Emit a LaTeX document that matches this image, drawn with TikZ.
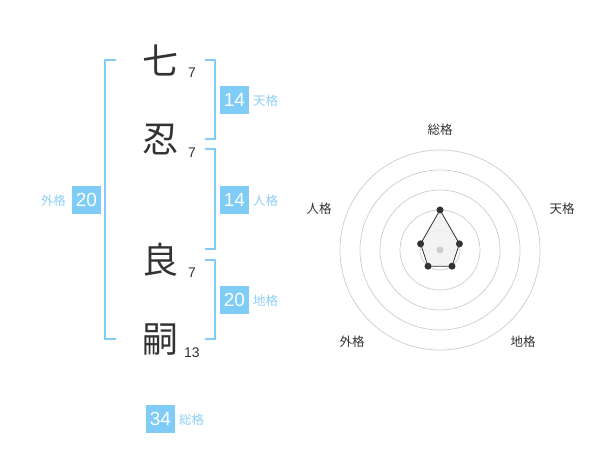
\documentclass[tikz,border=0pt]{standalone}
\usepackage{fontspec}
\setmainfont{Liberation Sans}
\newfontfamily\cjk{Noto Sans CJK JP}
\definecolor{boxblue}{HTML}{7FCCF7}
\definecolor{lblblue}{HTML}{8CCFF5}
\definecolor{brblue}{HTML}{82CBF7}
\definecolor{ink}{HTML}{333333}
\definecolor{ring}{HTML}{CCCCCC}
\begin{document}
\begin{tikzpicture}[x=1pt,y=-1pt,
  kanji/.style={font=\cjk\fontsize{36}{36}\selectfont, text=ink, inner sep=0pt},
  stroke/.style={font=\fontsize{14}{14}\selectfont, text=ink, inner sep=0pt},
  valbox/.style={fill=boxblue, text=white, font=\fontsize{19}{19}\selectfont, minimum width=29pt, minimum height=28pt, inner sep=0pt},
  vlabel/.style={font=\cjk\fontsize{12.5}{12.5}\selectfont, text=lblblue, inner sep=0pt},
  bracket/.style={draw=brblue, line width=2pt},
  rlabel/.style={font=\cjk\fontsize{12.5}{12.5}\selectfont, text=ink, inner sep=0pt},
  ringline/.style={draw=ring, line width=0.7pt},
  dot/.style={circle, fill=ink, inner sep=0pt, minimum size=7pt}]
\useasboundingbox (0,0) rectangle (600,470);
% characters
\node[kanji] (c1) at (160,60) {七};
\node[kanji] (c2) at (160,140) {忍};
\node[kanji] (c3) at (160,260) {良};
\node[kanji] (c4) at (160,340) {嗣};
\node[stroke] (n1) at (192,72.5) {7};
\node[stroke] (n2) at (192,152.5) {7};
\node[stroke] (n3) at (192,272.5) {7};
\node[stroke] (n4) at (192,352.5) {13};
% brackets
\coordinate (lt) at (116,60); \coordinate (lb) at (116,339);
\draw[bracket] (lt) -- (105,60) -- (105,339) -- (lb);
\coordinate (t1) at (205,60); \coordinate (t2) at (205,139);
\draw[bracket] (t1) -- (214.5,60) -- (214.5,139) -- (t2);
\coordinate (j1) at (205,149.5); \coordinate (j2) at (205,249.5);
\draw[bracket] (j1) -- (214.5,149.5) -- (214.5,249.5) -- (j2);
\coordinate (d1) at (205,260); \coordinate (d2) at (205,339);
\draw[bracket] (d1) -- (214.5,260) -- (214.5,339) -- (d2);
% value boxes
\node[valbox] (b1) at (234.5,100) {14};
\node[vlabel, anchor=west] (l1) at (253,101) {天格};
\node[valbox] (b2) at (234.5,200) {14};
\node[vlabel, anchor=west] (l2) at (253,201) {人格};
\node[valbox] (b3) at (234.5,300) {20};
\node[vlabel, anchor=west] (l3) at (253,301) {地格};
\node[valbox] (b4) at (86.5,200) {20};
\node[vlabel, anchor=east] (l4) at (66,201) {外格};
\node[valbox] (b5) at (160.5,419) {34};
\node[vlabel, anchor=west] (l5) at (179,420) {総格};
% radar
\coordinate (o) at (440,250);
\foreach \r in {20,40,60,80,100} \draw[ringline] (o) circle (\r);
\path (o) ++(0,-40) coordinate (p1);
\path (o) ++(19.4,-6.2) coordinate (p2);
\path (o) ++(12,16.2) coordinate (p3);
\path (o) ++(-12,16.2) coordinate (p4);
\path (o) ++(-19.4,-6.2) coordinate (p5);
\fill[black!6, fill opacity=0.8] (p1) -- (p2) -- (p3) -- (p4) -- (p5) -- cycle;
\draw[ink, line width=0.8pt] (p1) -- (p2) -- (p3) -- (p4) -- (p5) -- cycle;
\fill[ring] (o) circle (3.5);
\foreach \p in {p1,p2,p3,p4,p5} \node[dot] at (\p) {};
\node[rlabel] (r1) at (440,130) {総格};
\node[rlabel] (r2) at (562,208.5) {天格};
\node[rlabel] (r3) at (523,341.5) {地格};
\node[rlabel] (r4) at (352,341.5) {外格};
\node[rlabel] (r5) at (319,208.5) {人格};
\end{tikzpicture}
\end{document}
